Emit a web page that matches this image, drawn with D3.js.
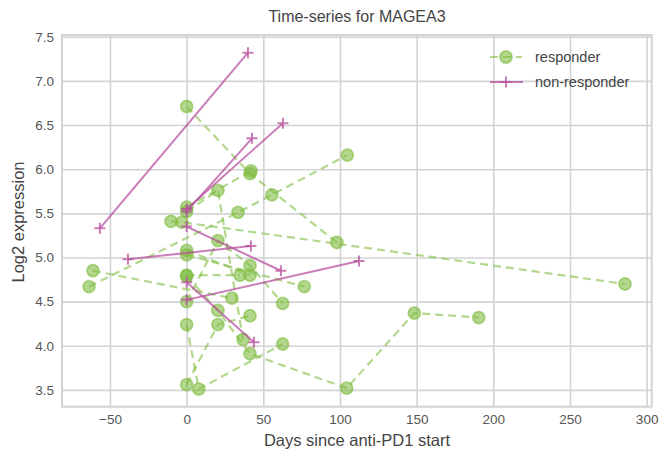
<!DOCTYPE html>
<html>
<head>
<meta charset="utf-8">
<script src="https://cdn.jsdelivr.net/npm/d3@7"></script>
<style>
  body { margin: 0; background: white; }
  text { font-family: "Liberation Sans", Arial, sans-serif; }
</style>
</head>
<body>
<script>
(function() {

  // each patient is one small series: [days since start, log2 expression]
  const responderSeries = [
    [[-63.7, 4.67], [33.5, 5.51], [55.6, 5.71], [104.8, 6.16]],
    [[-61.1, 4.85], [29.5, 4.54]],
    [[0, 6.71], [41.3, 5.95], [98, 5.17]],
    [[-10.2, 5.41], [-3.1, 5.40], [285.9, 4.70]],
    [[0, 5.57], [42, 5.98]],
    [[0, 5.52], [20.4, 5.76], [36.8, 4.07]],
    [[0, 5.08], [41.3, 4.80]],
    [[0, 5.03], [76.7, 4.67]],
    [[0, 4.80], [34.8, 4.80]],
    [[0, 4.79], [20.4, 4.40], [41.3, 3.91], [104.4, 3.52], [148.5, 4.37], [190.5, 4.32]],
    [[0, 4.24], [7.9, 3.51], [62.6, 4.02]],
    [[0, 3.56], [20.4, 4.24], [41.3, 4.34]],
    [[0, 4.50], [20.4, 5.19], [41.3, 4.91], [62.6, 4.48]]
  ];

  const nonResponderSeries = [
    [[-56.6, 5.33], [40, 7.32]],
    [[0, 5.52], [42.6, 6.35]],
    [[0, 5.55], [62.8, 6.52]],
    [[-38.3, 4.98], [41.9, 5.13]],
    [[0, 5.35], [61.5, 4.85]],
    [[0, 4.72], [43.9, 4.04]],
    [[0, 4.52], [112.4, 4.96]]
  ];

  const xTicks = [-50, 0, 50, 100, 150, 200, 250, 300];
  const yTicks = [3.5, 4.0, 4.5, 5.0, 5.5, 6.0, 6.5, 7.0, 7.5];
  const legendLabels = ["responder", "non-responder"];

  const green = "#7fbc41";
  const magenta = "#b8509f";
  const gridColor = "#d3d3d3";

  let svgContainer = "";

  window.onload = function() {
    svgContainer = d3.select('body').append('svg')
      .attr('width', 660)
      .attr('height', 459)
      .style("background", "white");

    let map = drawAxes();
    plotResponders(map);
    plotNonResponders(map);
    makeLegend();
  }

  // grid, frame, ticks and labels
  function drawAxes() {
    let xScale = d3.scaleLinear().domain([-81.3, 303.3]).range([62, 651.7]);
    let yScale = d3.scaleLinear().domain([3.31, 7.52]).range([406.7, 35]);

    let xAxis = d3.axisBottom(xScale).tickValues(xTicks)
      .tickSize(-(406.7 - 35)).tickPadding(8)
      .tickFormat((d) => d < 0 ? "\u2212" + Math.abs(d) : d);
    let yAxis = d3.axisLeft(yScale).tickValues(yTicks)
      .tickSize(-(651.7 - 62)).tickPadding(8)
      .tickFormat(d3.format(".1f"));

    let gx = svgContainer.append('g')
      .attr('transform', 'translate(0, 406.7)')
      .call(xAxis);
    let gy = svgContainer.append('g')
      .attr('transform', 'translate(62, 0)')
      .call(yAxis);

    [gx, gy].forEach((g) => {
      g.select('.domain').remove();
      g.selectAll('.tick line').attr('stroke', gridColor).attr('stroke-width', 1.6);
      g.selectAll('.tick text')
        .style('font-family', '"Liberation Sans", Arial, sans-serif')
        .style('font-size', '13.5px')
        .attr('fill', '#555');
    });

    // frame
    svgContainer.append('rect')
      .attr('x', 62)
      .attr('y', 35)
      .attr('width', 651.7 - 62)
      .attr('height', 406.7 - 35)
      .attr('fill', 'none')
      .attr('stroke', gridColor)
      .attr('stroke-width', 2);

    svgContainer.append('text')
      .attr('x', 357)
      .attr('y', 22)
      .attr('text-anchor', 'middle')
      .style('font-size', '16px')
      .attr('fill', '#444')
      .text('Time-series for MAGEA3');

    svgContainer.append('text')
      .attr('x', 357)
      .attr('y', 446)
      .attr('text-anchor', 'middle')
      .style('font-size', '16.5px')
      .attr('fill', '#444')
      .text('Days since anti-PD1 start');

    svgContainer.append('text')
      .attr('transform', 'translate(24, 222)rotate(-90)')
      .attr('text-anchor', 'middle')
      .style('font-size', '16.5px')
      .attr('fill', '#444')
      .text('Log2 expression');

    return { x: xScale, y: yScale };
  }

  // dashed green lines with round markers
  function plotResponders(map) {
    let line = d3.line().x((d) => map.x(d[0])).y((d) => map.y(d[1]));
    let groups = svgContainer.selectAll('.resp')
      .data(responderSeries)
      .enter()
      .append('g')
      .attr('class', 'resp');

    groups.append('path')
      .attr('d', line)
      .attr('fill', 'none')
      .attr('stroke', green)
      .attr('stroke-opacity', 0.6)
      .attr('stroke-width', 2.2)
      .attr('stroke-dasharray', '8,5');

    groups.selectAll('circle')
      .data((d) => d)
      .enter()
      .append('circle')
      .attr('cx', (d) => map.x(d[0]))
      .attr('cy', (d) => map.y(d[1]))
      .attr('r', 6)
      .attr('fill', green)
      .attr('fill-opacity', 0.6)
      .attr('stroke', green)
      .attr('stroke-opacity', 0.6)
      .attr('stroke-width', 1.8);
  }

  // solid magenta lines with plus markers
  function plotNonResponders(map) {
    let line = d3.line().x((d) => map.x(d[0])).y((d) => map.y(d[1]));
    let groups = svgContainer.selectAll('.nonresp')
      .data(nonResponderSeries)
      .enter()
      .append('g')
      .attr('class', 'nonresp');

    groups.append('path')
      .attr('d', line)
      .attr('fill', 'none')
      .attr('stroke', magenta)
      .attr('stroke-opacity', 0.75)
      .attr('stroke-width', 2);

    groups.selectAll('.plus')
      .data((d) => d)
      .enter()
      .append('path')
      .attr('class', 'plus')
      .attr('d', (d) => {
        let cx = map.x(d[0]), cy = map.y(d[1]);
        return `M${cx - 5.5},${cy}H${cx + 5.5}M${cx},${cy - 5.5}V${cy + 5.5}`;
      })
      .attr('stroke', magenta)
      .attr('stroke-opacity', 0.75)
      .attr('stroke-width', 2);
  }

  function makeLegend() {
    // responder entry
    svgContainer.append('line')
      .attr('x1', 490).attr('x2', 522)
      .attr('y1', 57).attr('y2', 57)
      .attr('stroke', green)
      .attr('stroke-opacity', 0.6)
      .attr('stroke-width', 2.2)
      .attr('stroke-dasharray', '8,5');
    svgContainer.append('circle')
      .attr('cx', 506).attr('cy', 57).attr('r', 6)
      .attr('fill', green).attr('fill-opacity', 0.6)
      .attr('stroke', green).attr('stroke-opacity', 0.6)
      .attr('stroke-width', 1.8);
    svgContainer.append('text')
      .attr('x', 535).attr('y', 62)
      .style('font-size', '14.5px')
      .attr('fill', '#444')
      .text(legendLabels[0]);

    // non-responder entry
    svgContainer.append('line')
      .attr('x1', 490).attr('x2', 523)
      .attr('y1', 82).attr('y2', 82)
      .attr('stroke', magenta)
      .attr('stroke-opacity', 0.75)
      .attr('stroke-width', 2);
    svgContainer.append('path')
      .attr('d', 'M500.5,82H511.5M506,76.5V87.5')
      .attr('stroke', magenta)
      .attr('stroke-opacity', 0.75)
      .attr('stroke-width', 2);
    svgContainer.append('text')
      .attr('x', 535).attr('y', 87)
      .style('font-size', '14.5px')
      .attr('fill', '#444')
      .text(legendLabels[1]);
  }
})();
</script>
</body>
</html>
